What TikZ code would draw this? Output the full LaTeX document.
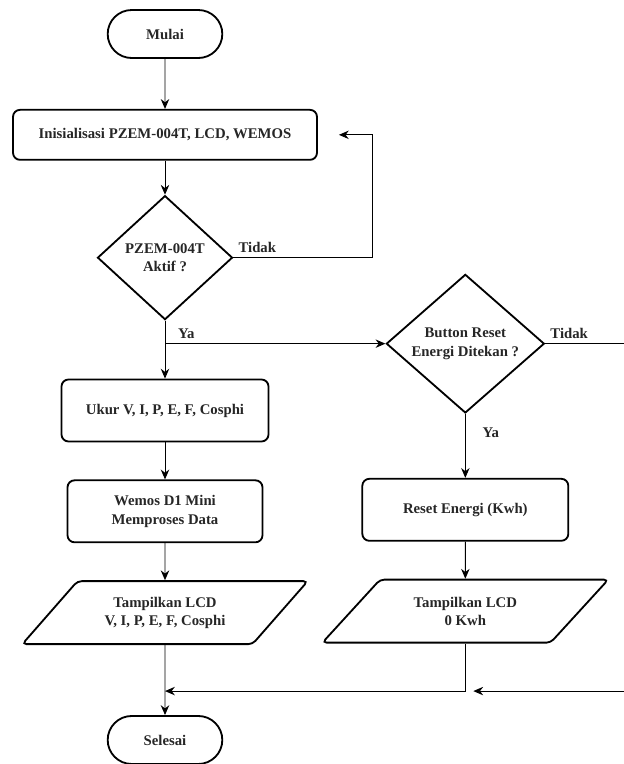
\documentclass[tikz,border=0pt]{standalone}
\usepackage{fontspec}
\setmainfont{Liberation Serif}
\usepackage{tikz}
\usetikzlibrary{shapes,arrows,arrows.meta,positioning,calc}
\newcommand{\tulisan}{\bfseries\fontsize{10.5}{13}\selectfont}

\begin{document}
\begin{tikzpicture}[node distance=1cm, auto,
    block/.style={rectangle, draw, line width=1.3pt, rounded corners=5pt, align=center, minimum height=1.55cm, text=black!85, font=\tulisan},
    startstop/.style={rounded rectangle, draw, line width=1.3pt, minimum width=3.1cm, minimum height=1.2cm, text=black!85, font=\tulisan},
    decision/.style={diamond, draw, line width=1.3pt, inner sep=0pt, align=center, text=black!85, font=\tulisan},
    io/.style={trapezium, trapezium left angle=45, trapezium right angle=135, trapezium stretches=true, draw, line width=1.3pt, rounded corners=3pt, minimum width=7.15cm, minimum height=1.575cm, align=center, text=black!85, font=\tulisan},
    arrow/.style={-{Stealth[length=7pt, width=6pt]}, line width=0.7pt},
    note/.style={text=black!85, font=\tulisan}]

    \useasboundingbox (0,0) rectangle (15.6,-19.1);

    \node[startstop] at (4.125,-0.85) (mulai) {Mulai};
    \node[block, below=1.25cm of mulai, minimum width=7.6cm, minimum height=1.25cm] (init) {Inisialisasi PZEM-004T, LCD, WEMOS};
    \node[decision, below=0.85cm of init, minimum width=3.375cm, minimum height=3.1cm] (cek) {PZEM-004T\\Aktif ?};
    \node[block, below=1.45cm of cek, minimum width=5.175cm] (ukur) {Ukur V, I, P, E, F, Cosphi};
    \node[block, below=0.925cm of ukur, minimum width=4.875cm] (olah) {Wemos D1 Mini\\Memproses Data};
    \node[io, below=0.925cm of olah] (tampil) {Tampilkan LCD\\V, I, P, E, F, Cosphi};
    \node[startstop, below=1.75cm of tampil] (selesai) {Selesai};

    \node[decision, right=3.8cm of cek, yshift=-2.15cm, minimum width=3.95cm, minimum height=3.425cm] (tombol) {Button Reset\\Energi Ditekan ?};
    \node[block, below=1.6cm of tombol, minimum width=5.15cm] (reset) {Reset Energi (Kwh)};
    \node[io, below=0.925cm of reset] (tampilnol) {Tampilkan LCD\\0 Kwh};

    \coordinate[right=0.525cm of init.east] (balik);
    \coordinate[below=1.15cm of tampil.south] (gabung);
    \coordinate (masuk) at ($(tampilnol.south |- gabung)+(0.2,0)$);

    \draw[arrow] (mulai) -- (init);
    \draw[arrow] (init) -- (cek);
    \draw[arrow] (cek) -- node[note, pos=0.22, right=0.2cm] {Ya} (ukur);
    \draw[arrow] (cek.east) -- node[note, pos=0, above right] {Tidak} ++(3.475cm,0) |- (balik);
    \draw[arrow] (cek.south |- tombol.west) -- (tombol.west);
    \draw[arrow] (ukur) -- (olah);
    \draw[arrow] (olah) -- (tampil);
    \draw[arrow] (tampil) -- (selesai);

    \draw[arrow] (tombol) -- node[note, pos=0.3, right=0.3cm] {Ya} (reset);
    \draw[arrow] (tombol.east) -- node[note, pos=0, above right] {Tidak} ++(2.2cm,0) |- (masuk);
    \draw[arrow] (reset) -- (tampilnol);
    \draw[arrow] (tampilnol.south) |- (gabung);
\end{tikzpicture}
\end{document}
